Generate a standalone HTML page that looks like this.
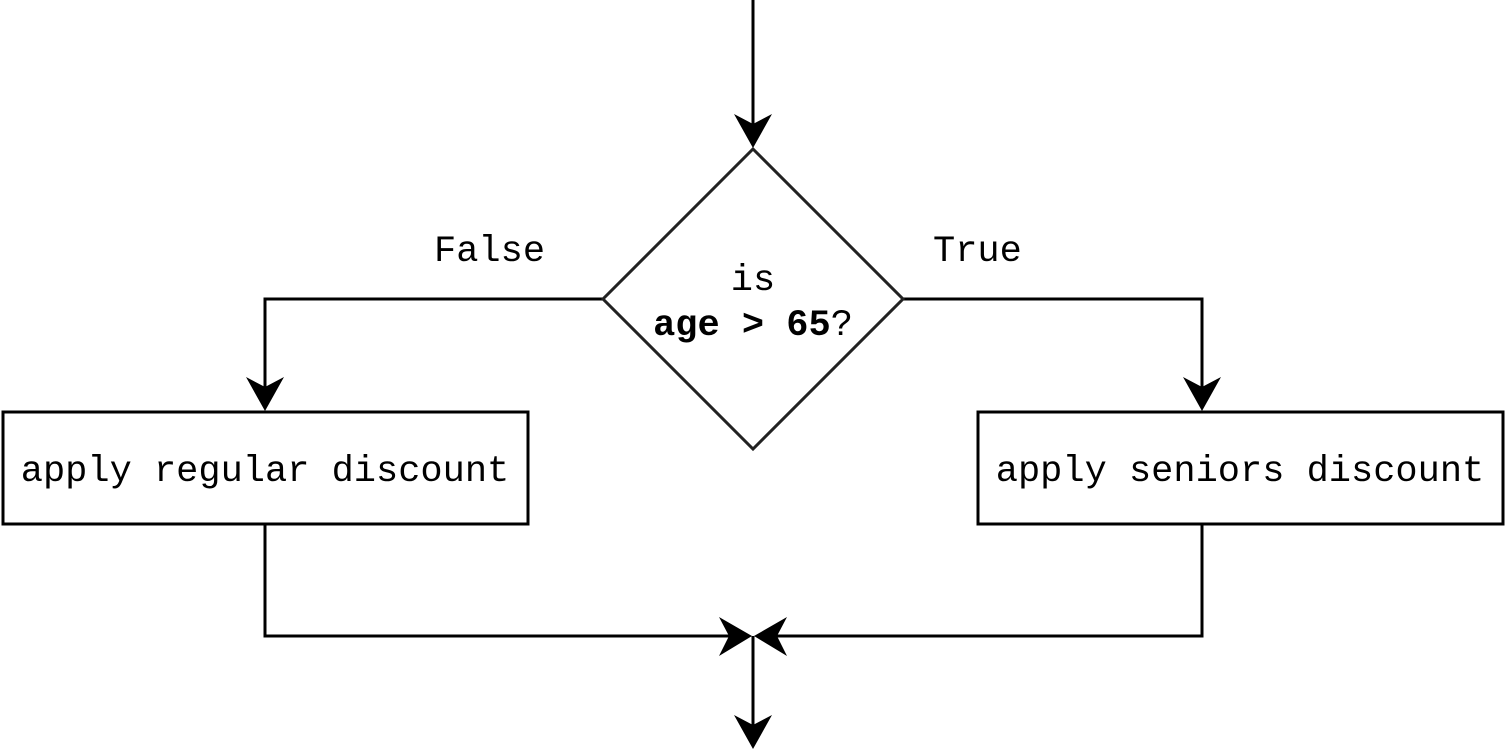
<!DOCTYPE html>
<html><head><meta charset="utf-8"><style>
html,body{margin:0;padding:0;background:#fff;width:1506px;height:750px;overflow:hidden}
svg text{font-family:"Liberation Mono",monospace;font-size:37px;fill:#000}
</style></head><body>
<svg width="1506" height="750" viewBox="0 0 1506 750" xmlns="http://www.w3.org/2000/svg">
<g fill="none" stroke="#000" stroke-width="3">
<line x1="753" y1="0" x2="753" y2="130"/>
<polyline points="603,299 265,299 265,395"/>
<polyline points="903,299 1202,299 1202,395"/>
<polyline points="265,524 265,636 735,636"/>
<polyline points="1202,524 1202,636 771,636"/>
<line x1="753" y1="636" x2="753" y2="730"/>
</g>
<polygon points="753,149 903,299 753,449 603,299" fill="#fff" stroke="#222" stroke-width="3"/>
<rect x="3" y="412" width="525" height="112" fill="#fff" stroke="#000" stroke-width="3"/>
<rect x="978" y="412" width="525" height="112" fill="#fff" stroke="#000" stroke-width="3"/>
<g fill="#000">
<polygon points="753,148 734,114 753,124 772,114"/>
<polygon points="265,411 246,377 265,387 284,377"/>
<polygon points="1202,411 1183,377 1202,387 1221,377"/>
<polygon points="753,749 734,715 753,725 772,715"/>
<polygon points="752,636 719,617 729,636 719,656"/>
<polygon points="754,636 787,617 777,636 787,656"/>
</g>
<text x="434" y="261">False</text>
<text x="933" y="261">True</text>
<text x="753" y="290" text-anchor="middle">is</text>
<text x="753" y="335" text-anchor="middle"><tspan font-weight="bold">age &gt; 65</tspan>?</text>
<text x="265" y="481" text-anchor="middle">apply regular discount</text>
<text x="1240" y="481" text-anchor="middle">apply seniors discount</text>
</svg>
</body></html>
